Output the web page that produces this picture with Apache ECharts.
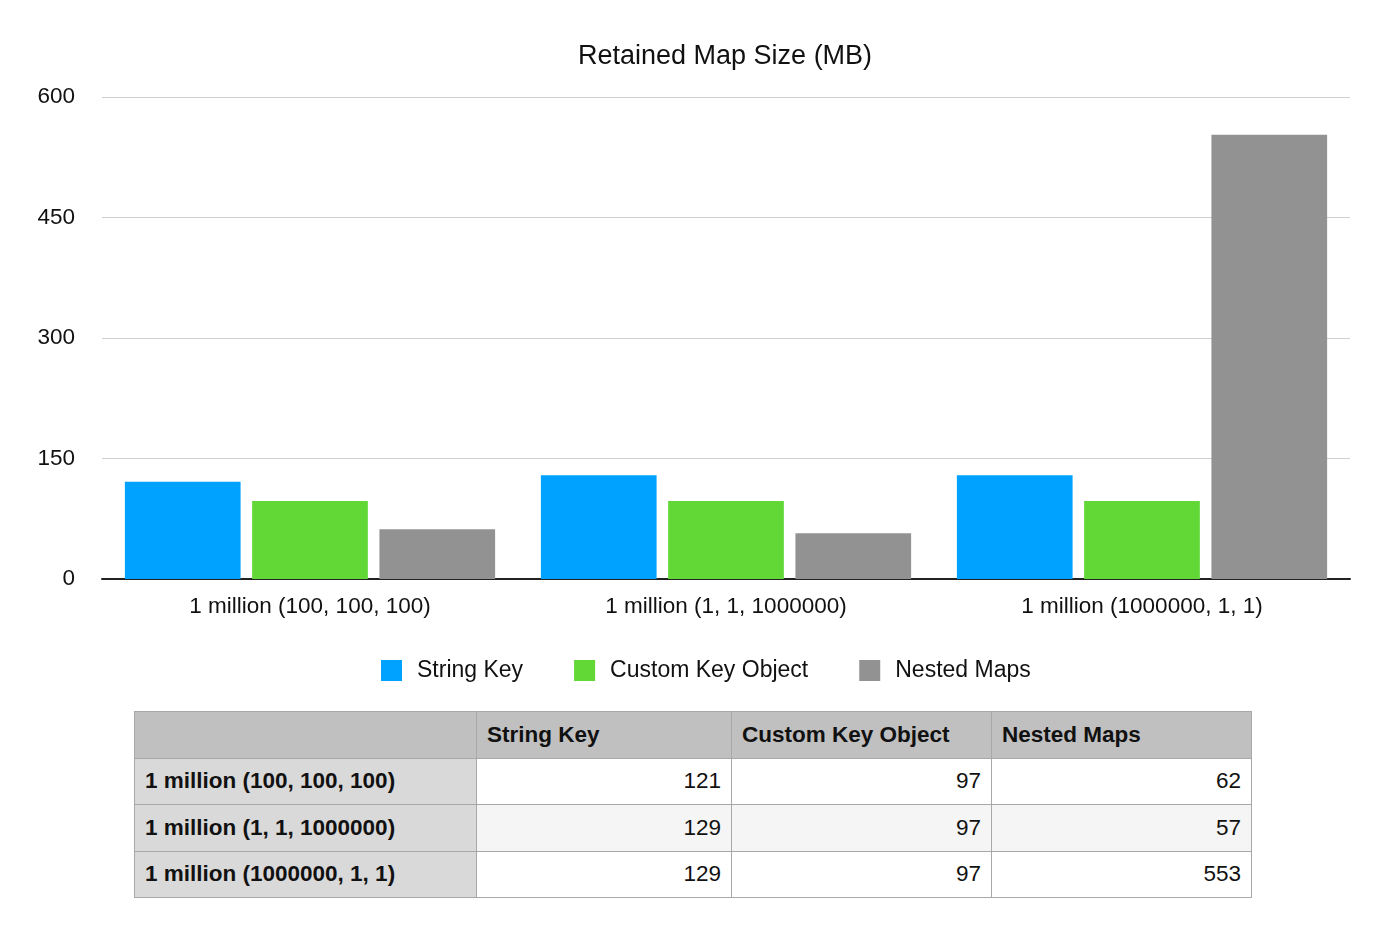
<!DOCTYPE html>
<html>
<head>
<meta charset="utf-8">
<script src="https://cdn.jsdelivr.net/npm/echarts@6/dist/echarts.min.js"></script>
<style>
  html, body { margin: 0; padding: 0; background: #fff; }
  #chart { position: absolute; left: 0; top: 0; width: 1400px; height: 700px; }
  #tbl {
    position: absolute; left: 134px; top: 711px;
    border-collapse: collapse;
    font-family: "Liberation Sans", Arial, sans-serif;
    font-size: 22.5px; color: #111;
  }
  #tbl td, #tbl th { border: 1px solid #a8a8a8; height: 46.5px; padding: 0 10px; box-sizing: border-box; }
  #tbl th { background: #c0c0c0; text-align: left; font-weight: bold; }
  #tbl td.name { background: #d9d9d9; font-weight: bold; text-align: left; }
  #tbl td.num { text-align: right; }
  #tbl tr.alt td.num { background: #f5f5f5; }
</style>
</head>
<body>
<div id="chart"></div>
<table id="tbl"></table>
<script>
// 分类与数据
const categories = ["1 million (100, 100, 100)", "1 million (1, 1, 1000000)", "1 million (1000000, 1, 1)"];
const seriesNames = ["String Key", "Custom Key Object", "Nested Maps"];
const stringKey = [121, 129, 129];
const customKey = [97, 97, 97];
const nestedMaps = [62, 57, 553];
const colors = ["#00a2ff", "#61d836", "#929292"];
const colWidths = [342, 255, 260, 260];

const font = "Liberation Sans, Arial, sans-serif";
const myChart = echarts.init(document.getElementById("chart"));
const values = [stringKey, customKey, nestedMaps];

let option = {
  title: {
    text: "Retained Map Size (MB)",
    left: 573,
    top: 38,
    textStyle: { fontFamily: font, fontWeight: "normal", fontSize: 27, color: "#111" }
  },
  legend: {
    top: 659,
    left: 381,
    padding: 0,
    itemWidth: 21,
    itemHeight: 21,
    itemGap: 51,
    icon: "rect",
    textStyle: { fontFamily: font, fontSize: 23, color: "#111", padding: [0, 0, 0, 10] },
    data: seriesNames
  },
  grid: { left: 102, right: 50, top: 97, bottom: 121 },
  xAxis: {
    type: "category",
    data: categories,
    axisLine: { lineStyle: { color: "#222", width: 2 } },
    axisTick: { show: false },
    axisLabel: { fontFamily: font, fontSize: 22.5, color: "#111", margin: 16 }
  },
  yAxis: {
    type: "value",
    min: 0,
    max: 600,
    interval: 150,
    axisLine: { show: false },
    axisTick: { show: false },
    axisLabel: { fontFamily: font, fontSize: 22.5, color: "#111", margin: 27 },
    splitLine: { lineStyle: { color: "#d0d0d0", width: 1 } }
  },
  series: seriesNames.map((name, i) => ({
    name: name,
    type: "bar",
    data: values[i],
    barGap: "10%",
    barCategoryGap: "11%",
    itemStyle: { color: colors[i] }
  }))
};
myChart.clear();
myChart.setOption(option);

// 表格
const tbl = document.getElementById("tbl");
let html = "<tr><th style='width:" + colWidths[0] + "px'></th>";
seriesNames.forEach((n, i) => { html += "<th style='width:" + colWidths[i + 1] + "px'>" + n + "</th>"; });
html += "</tr>";
categories.forEach((c, r) => {
  html += "<tr" + (r === 1 ? " class='alt'" : "") + "><td class='name'>" + c + "</td>";
  values.forEach(v => { html += "<td class='num'>" + v[r] + "</td>"; });
  html += "</tr>";
});
tbl.innerHTML = html;
</script>
</body>
</html>
